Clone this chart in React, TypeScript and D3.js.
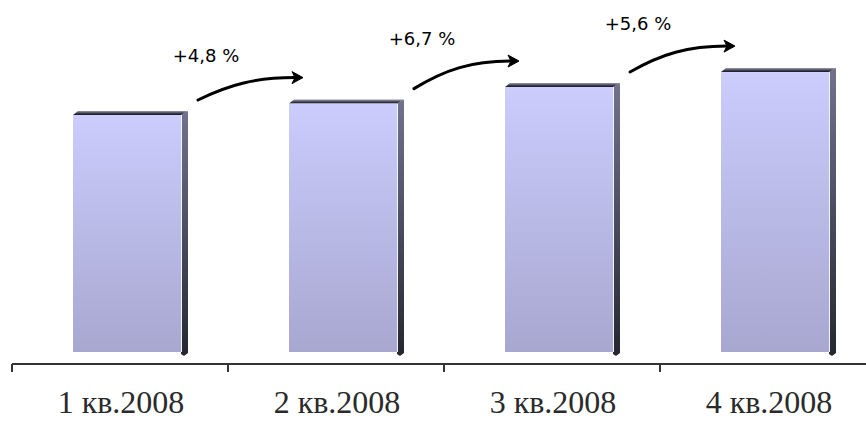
import React from "react";
import * as d3 from "d3";

const categories = ["1 кв.2008", "2 кв.2008", "3 кв.2008", "4 кв.2008"];
const values = [100, 104.8, 111.8, 118.1];
const growthLabels = ["+4,8 %", "+6,7 %", "+5,6 %"];

const W = 866;
const H = 421;

export default function App() {
  const x = d3.scaleBand<string>().domain(categories).range([12, 876]).paddingInner(0).paddingOuter(0);
  const y = d3.scaleLinear().domain([0, 100]).range([352, 115]);
  const axisY = 364;
  const bw = 108;
  const depthX = 7;
  const depthY = 4;
  const frontX = (c: string) => (x(c) as number) + 61;

  const arrows = growthLabels.map((lab, i) => {
    const c0 = categories[i];
    const c1 = categories[i + 1];
    const sx = frontX(c0) + bw + depthX + 10;
    const sy = y(values[i]) - 15;
    const ex = frontX(c1) + 14;
    const ey = y(values[i + 1]) - 26;
    const dx = ex - sx;
    const dy = ey - sy;
    const lineEnd = ex - 8;
    const path = `M${sx},${sy} C${sx + 0.3 * dx},${sy + 0.7 * dy} ${sx + 0.55 * dx},${ey} ${lineEnd},${ey}`;
    const head = `M${ex},${ey} L${ex - 11},${ey - 6} L${ex - 8},${ey} L${ex - 11},${ey + 6} Z`;
    const ly = y(values[i + 1]) - 42;
    return { lab, sx, sy, ex, ey, path, head, ly };
  });

  const ticks = [...categories.map((c) => x(c) as number), 876];

  return (
    <svg
      width={W}
      height={H}
      style={{ position: "absolute", left: 0, top: 0, background: "#fff" }}
    >
      <defs>
        <linearGradient id="front" x1="0" y1="0" x2="0" y2="1">
          <stop offset="0%" stopColor="#ccccfd" />
          <stop offset="100%" stopColor="#a7a7d0" />
        </linearGradient>
        <linearGradient id="side" x1="0" y1="0" x2="0" y2="1">
          <stop offset="0%" stopColor="#72728f" />
          <stop offset="100%" stopColor="#262632" />
        </linearGradient>
        <linearGradient id="top" x1="0" y1="0" x2="0" y2="1">
          <stop offset="0%" stopColor="#9a9ab0" />
          <stop offset="60%" stopColor="#3a3a4a" />
          <stop offset="100%" stopColor="#15151f" />
        </linearGradient>
      </defs>

      {categories.map((c, i) => {
        const x0 = frontX(c);
        const x1 = x0 + bw;
        const top = y(values[i]);
        const bottom = y(0);
        return (
          <g key={c}>
            <polygon
              points={`${x1},${top} ${x1 + depthX},${top - depthY} ${x1 + depthX},${bottom + 1} ${x1 + 3},${bottom + 4} ${x1},${bottom + 2}`}
              fill="url(#side)"
            />
            <polygon
              points={`${x0},${top} ${x0 + 5},${top - depthY} ${x1 + depthX},${top - depthY} ${x1},${top}`}
              fill="url(#top)"
            />
            <rect x={x0} y={top} width={bw} height={bottom - top} fill="url(#front)" />
            <line x1={x1 + 0.5} y1={top} x2={x1 + 0.5} y2={bottom} stroke="#f4f4ff" strokeWidth={1} />
          </g>
        );
      })}

      <line x1={12} y1={axisY} x2={W} y2={axisY} stroke="#333" strokeWidth={2} />
      {ticks.map((t, i) => (
        <line key={i} x1={t} y1={axisY} x2={t} y2={axisY + 8} stroke="#333" strokeWidth={2} />
      ))}

      {categories.map((c) => (
        <text
          key={c}
          x={(x(c) as number) + x.bandwidth() / 2 + 1}
          y={413}
          textAnchor="middle"
          fontFamily="'Liberation Serif', 'Times New Roman', serif"
          fontSize={32}
          fill="#2a2a2a"
        >
          {c}
        </text>
      ))}

      {arrows.map((a, i) => (
        <g key={i}>
          <path d={a.path} fill="none" stroke="#000" strokeWidth={3} strokeLinecap="round" />
          <path d={a.head} fill="#000" stroke="#000" strokeWidth={1} strokeLinejoin="round" />
          <text
            x={a.sx + 8}
            y={a.ly}
            textAnchor="middle"
            fontFamily="'DejaVu Sans', Verdana, sans-serif"
            fontSize={18}
            fill="#000"
          >
            {a.lab}
          </text>
        </g>
      ))}
    </svg>
  );
}
